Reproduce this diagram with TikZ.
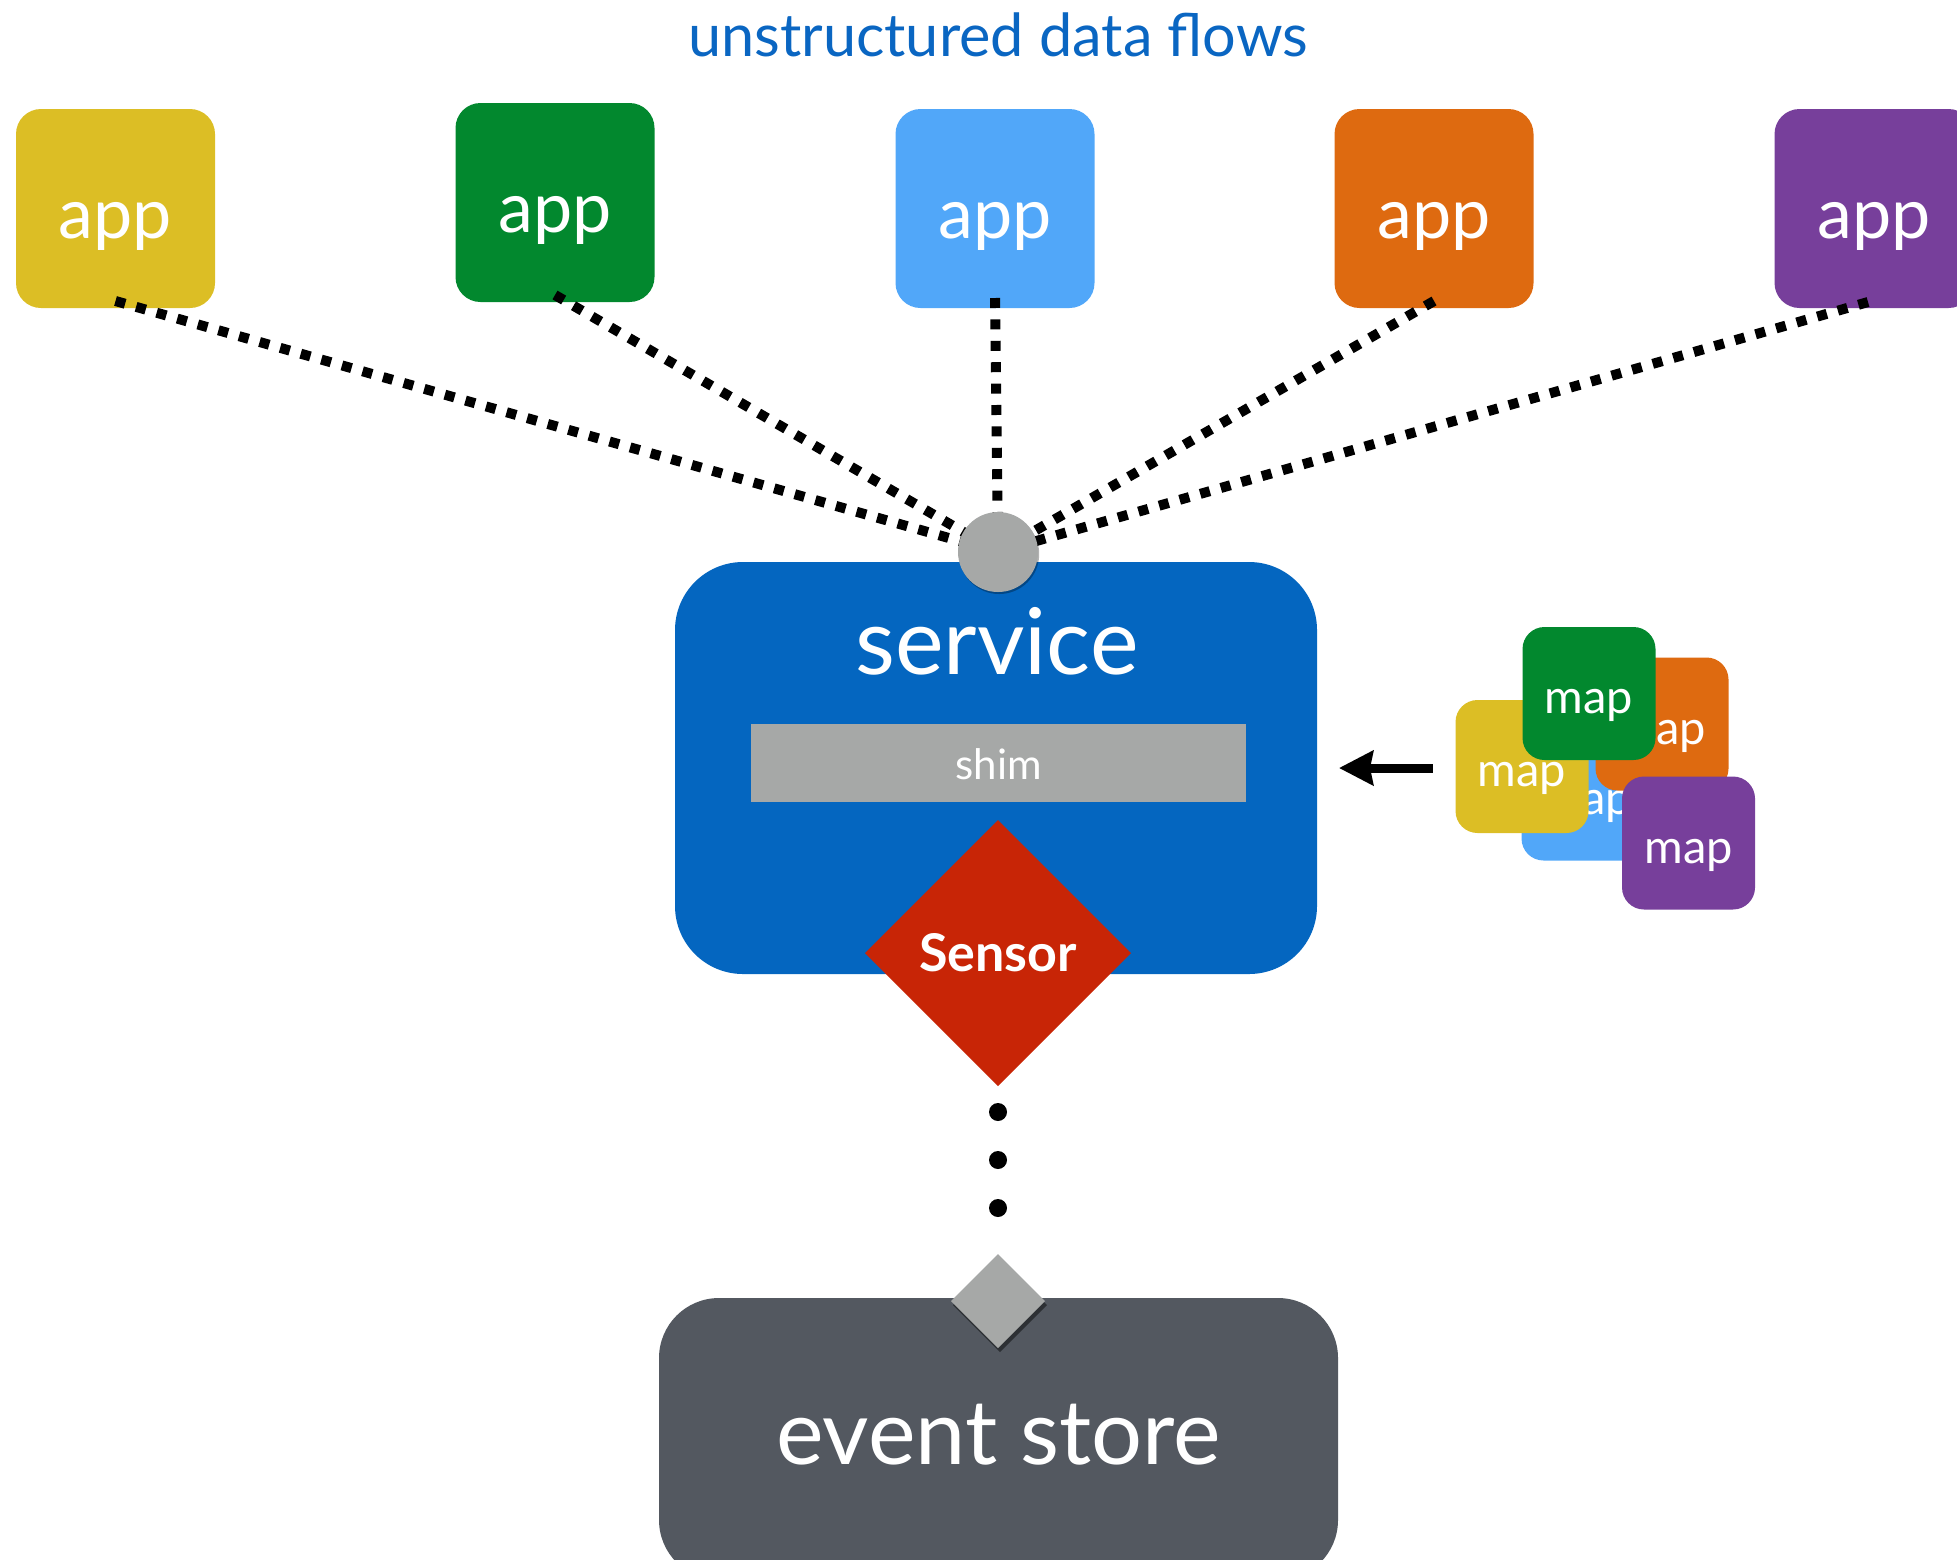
\documentclass[tikz,border=0pt]{standalone}
\usepackage{fontspec}
\setmainfont{Lato}
\usetikzlibrary{shapes.geometric,arrows.meta,shadows}
\definecolor{cYel}{HTML}{DCBE25}
\definecolor{cGrn}{HTML}{02882E}
\definecolor{cLbl}{HTML}{51A7F9}
\definecolor{cOra}{HTML}{DE6A10}
\definecolor{cPur}{HTML}{773F9B}
\definecolor{cSvc}{HTML}{0466C0}
\definecolor{cTitle}{HTML}{0A66C2}
\definecolor{cGray}{HTML}{A6A8A7}
\definecolor{cRed}{HTML}{C82506}
\definecolor{cDark}{HTML}{535860}
\begin{document}
\begin{tikzpicture}[x=0.5pt,y=-0.5pt,
  appbox/.style={rounded corners=12.5pt, minimum width=99.5pt, minimum height=99.5pt,
     inner sep=0pt, outer sep=0pt, text=white, font=\fontsize{35}{42}\selectfont,
     text height=32pt, text depth=2pt},
  mapbox/.style={rounded corners=11pt, minimum width=66.5pt, minimum height=66.5pt,
     inner sep=0pt, outer sep=0pt, text=white, font=\fontsize{23.5}{28}\selectfont,
     text height=21pt, text depth=1pt},
  dotl/.style={line width=5pt, dash pattern=on 5pt off 5.7pt},
  dotconn/.style={line width=9pt, line cap=round, dash pattern=on 0pt off 24pt, dash phase=11pt},
  arrowline/.style={line width=4.5pt, -{Stealth[length=17pt,width=17pt,inset=1.5pt]}}
]
\useasboundingbox (0,0) rectangle (1957,1559);
\clip (0,0) rectangle (1957,1559);

% title
\node[anchor=base, text=cTitle, font=\fontsize{29.7}{36}\selectfont, inner sep=0pt] (title) at (998,56) {unstructured data flows};

% apps
\node[appbox, fill=cYel] (appY) at (115.5,208.5) {app};
\node[appbox, fill=cGrn] (appG) at (555,202.5) {app};
\node[appbox, fill=cLbl] (appB) at (995,208.5) {app};
\node[appbox, fill=cOra] (appO) at (1434,208.5) {app};
\node[appbox, fill=cPur] (appP) at (1874,208.5) {app};

\path (998,552) coordinate (hubc);

% dotted lines
\draw[dotl] ([yshift=3.5pt]appY.south) -- (hubc);
\draw[dotl] ([yshift=3.5pt]appG.south) -- (hubc);
\draw[dotl] ([yshift=5pt]appB.south) -- (hubc);
\draw[dotl] ([yshift=3.5pt]appO.south) -- (hubc);
\draw[dotl] ([yshift=3pt,xshift=-3pt]appP.south) -- (hubc);

% service
\node[fill=cSvc, rounded corners=34pt, minimum width=321pt, minimum height=206pt, inner sep=0pt, outer sep=0pt] (svc) at (996,768) {};
\node[anchor=base, text=white, font=\fontsize{46}{54}\selectfont, inner sep=0pt] (svclbl) at (997,674) {service};
\node[fill=cGray, minimum width=247.5pt, minimum height=39pt, inner sep=0pt, outer sep=0pt,
      text=white, font=\fontsize{21}{26}\selectfont, text height=17pt, text depth=1pt] (shim) at (998.5,763) {shim};
\node[diamond, fill=cRed, minimum width=133pt, minimum height=133pt, inner sep=0pt, outer sep=0pt,
      text=white, font=\bfseries\fontsize{26}{30}\selectfont, text height=19pt, text depth=1pt] (sensor) at (998,953) {Sensor};

\node[circle, fill=cGray, minimum size=40pt, inner sep=0pt, outer sep=0pt,
      drop shadow={shadow xshift=0.6pt, shadow yshift=-1pt, opacity=0.3, fill=black}] (hub) at (hubc) {};

% event store
\node[fill=cDark, rounded corners=30pt, minimum width=339.5pt, minimum height=141pt, inner sep=0pt, outer sep=0pt,
      text=white, font=\fontsize{45}{54}\selectfont, text height=26pt, text depth=1pt] (store) at (998.5,1439) {event store};
\node[diamond, fill=cGray, minimum width=47pt, minimum height=47pt, inner sep=0pt, outer sep=0pt,
      drop shadow={shadow xshift=1pt, shadow yshift=-2pt, opacity=0.45, fill=black}] (gdiam) at (998,1301) {};

\draw[dotconn, shorten >=20pt] (sensor.south) -- (gdiam.north);

% maps
\node[mapbox, fill=cLbl] (mapB) at (1588,794) {map};
\node[mapbox, fill=cOra] (mapO) at (1662,724) {map};
\node[mapbox, fill=cYel] (mapY) at (1522,766.5) {map};
\node[mapbox, fill=cGrn] (mapG) at (1589,693.5) {map};
\node[mapbox, fill=cPur] (mapP) at (1688.5,843) {map};

\draw[arrowline, shorten <=11.5pt, shorten >=11pt] (mapY.west |- svc.east) -- (svc.east);
\end{tikzpicture}
\end{document}
